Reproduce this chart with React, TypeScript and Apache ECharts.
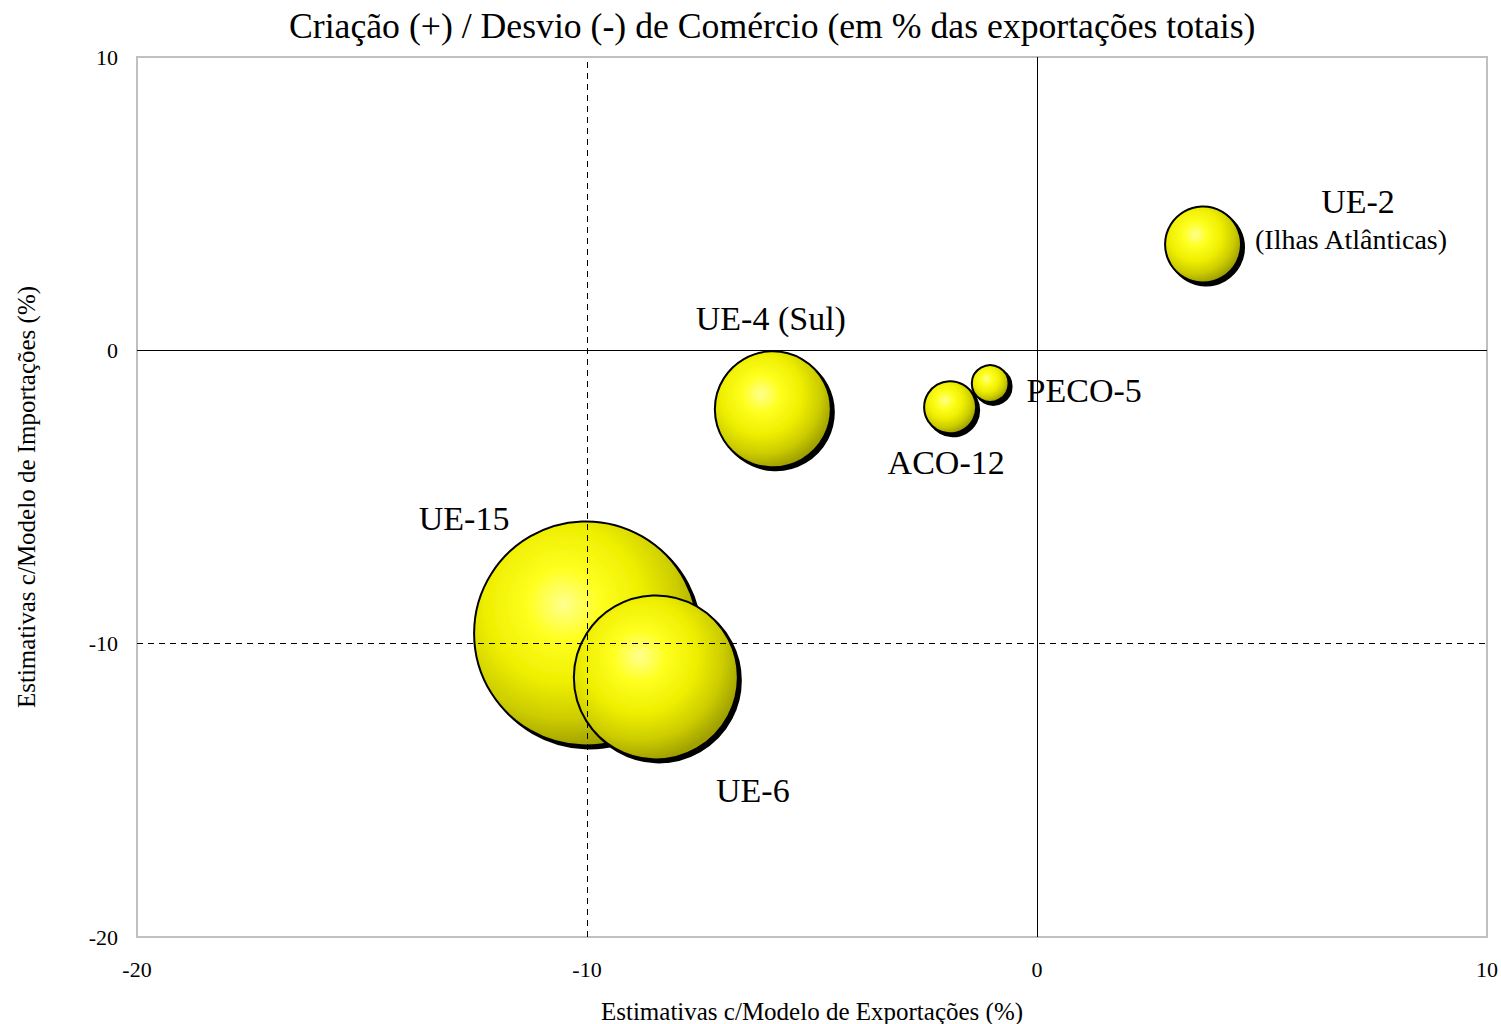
import React, { useEffect, useRef } from "react";
import * as echarts from "echarts";

const names = ["UE-15", "UE-6", "UE-4 (Sul)", "ACO-12", "PECO-5", "UE-2"];
const exportEst = [-10.02, -8.47, -5.87, -1.93, -1.04, 3.69];
const importEst = [-9.65, -11.15, -2.01, -1.94, -1.13, 3.61];
const bubbleSize = [100, 53.6, 26.8, 5.4, 2.7, 11.5];
const xTicks = [-20, -10, 0, 10];
const yTicks = [-20, -10, 0, 10];

const labelOffsets: [number, number][] = [
  [-122, -115],
  [97, 113],
  [-2, -91],
  [-4, 55],
  [94, 7],
  [148, -25],
];

const FONT = '"Liberation Serif", "Times New Roman", serif';

export default function App() {
  const ref = useRef<HTMLDivElement>(null);
  useEffect(() => {
    if (!ref.current) return;
    const chart = echarts.init(ref.current, undefined, { renderer: "svg" });
    const gradient = new echarts.graphic.RadialGradient(0.4, 0.37, 0.64, [
      { offset: 0, color: "#ffff90" },
      { offset: 0.25, color: "#ffff20" },
      { offset: 0.55, color: "#eeee00" },
      { offset: 0.8, color: "#cccc00" },
      { offset: 1, color: "#a0a000" },
    ]);
    const data = names.map((n, i) => {
      const isUE2 = n === "UE-2";
      return {
        name: n,
        value: [exportEst[i], importEst[i], bubbleSize[i]],
        label: {
          show: true,
          position: "inside",
          offset: labelOffsets[i],
          formatter: isUE2 ? "{a|UE-2}\n{b|(Ilhas Atlânticas)}" : n,
          color: "#000",
          fontSize: 34,
          fontFamily: FONT,
          align: "center",
          rich: isUE2
            ? {
                a: { fontSize: 34, fontFamily: FONT, color: "#000", lineHeight: 40, align: "center", padding: [0, 0, 0, 14] },
                b: { fontSize: 28, fontFamily: FONT, color: "#000", lineHeight: 36, align: "center" },
              }
            : undefined,
        },
      };
    });
    const axisLabel = { color: "#000", fontSize: 22, fontFamily: FONT };
    chart.setOption({
      animation: false,
      backgroundColor: "#fff",
      title: {
        text: "Criação (+) / Desvio (-) de Comércio (em % das exportações totais)",
        left: 284,
        top: 3,
        textStyle: { color: "#000", fontSize: 35.7, fontWeight: "normal", fontFamily: FONT },
      },
      grid: {
        left: 137,
        top: 57,
        width: 1350,
        height: 880,
        show: true,
        borderColor: "#c0c0c0",
        borderWidth: 2,
        backgroundColor: "transparent",
        outerBoundsMode: "none",
        containLabel: false,
      },
      xAxis: {
        type: "value",
        min: xTicks[0],
        max: xTicks[xTicks.length - 1],
        interval: 10,
        name: "Estimativas c/Modelo de Exportações (%)",
        nameLocation: "middle",
        nameGap: 62,
        nameTextStyle: { color: "#000", fontSize: 25, fontFamily: FONT },
        axisLine: { show: false },
        axisTick: { show: false },
        splitLine: { show: false },
        axisLabel: { ...axisLabel, margin: 21 },
      },
      yAxis: {
        type: "value",
        min: yTicks[0],
        max: yTicks[yTicks.length - 1],
        interval: 10,
        name: "Estimativas c/Modelo de Importações (%)",
        nameLocation: "middle",
        nameGap: 98,
        nameTextStyle: { color: "#000", fontSize: 25, fontFamily: FONT },
        axisLine: { show: false },
        axisTick: { show: false },
        splitLine: { show: false },
        axisLabel: { ...axisLabel, margin: 19 },
      },
      series: [
        {
          type: "scatter",
          z: 1,
          symbolSize: 0,
          data: data.map((d) => d.value),
          silent: true,
          markLine: {
            silent: true,
            symbol: ["none", "none"],
            label: { show: false },
            lineStyle: { color: "#000", width: 1, type: "solid" },
            data: [
              { xAxis: 0 },
              { yAxis: 0 },
              { xAxis: -10, lineStyle: { type: [6, 5], color: "#000", width: 1 } },
              { yAxis: -10, lineStyle: { type: [6, 5], color: "#000", width: 1 } },
            ],
          },
        },
        {
          type: "scatter",
          z: 3,
          data,
          symbolSize: (val: number[]) => 224 * Math.sqrt(val[2] / 100),
          itemStyle: {
            color: gradient,
            opacity: 1,
            borderColor: "#000",
            borderWidth: 2,
            shadowColor: "#000",
            shadowBlur: 0,
            shadowOffsetX: 3,
            shadowOffsetY: 3,
          },
          emphasis: { disabled: true },
        },
      ],
    });
    return () => chart.dispose();
  }, []);
  return (
    <div
      ref={ref}
      style={{ position: "fixed", left: 0, top: 0, width: 1501, height: 1024 }}
    />
  );
}
